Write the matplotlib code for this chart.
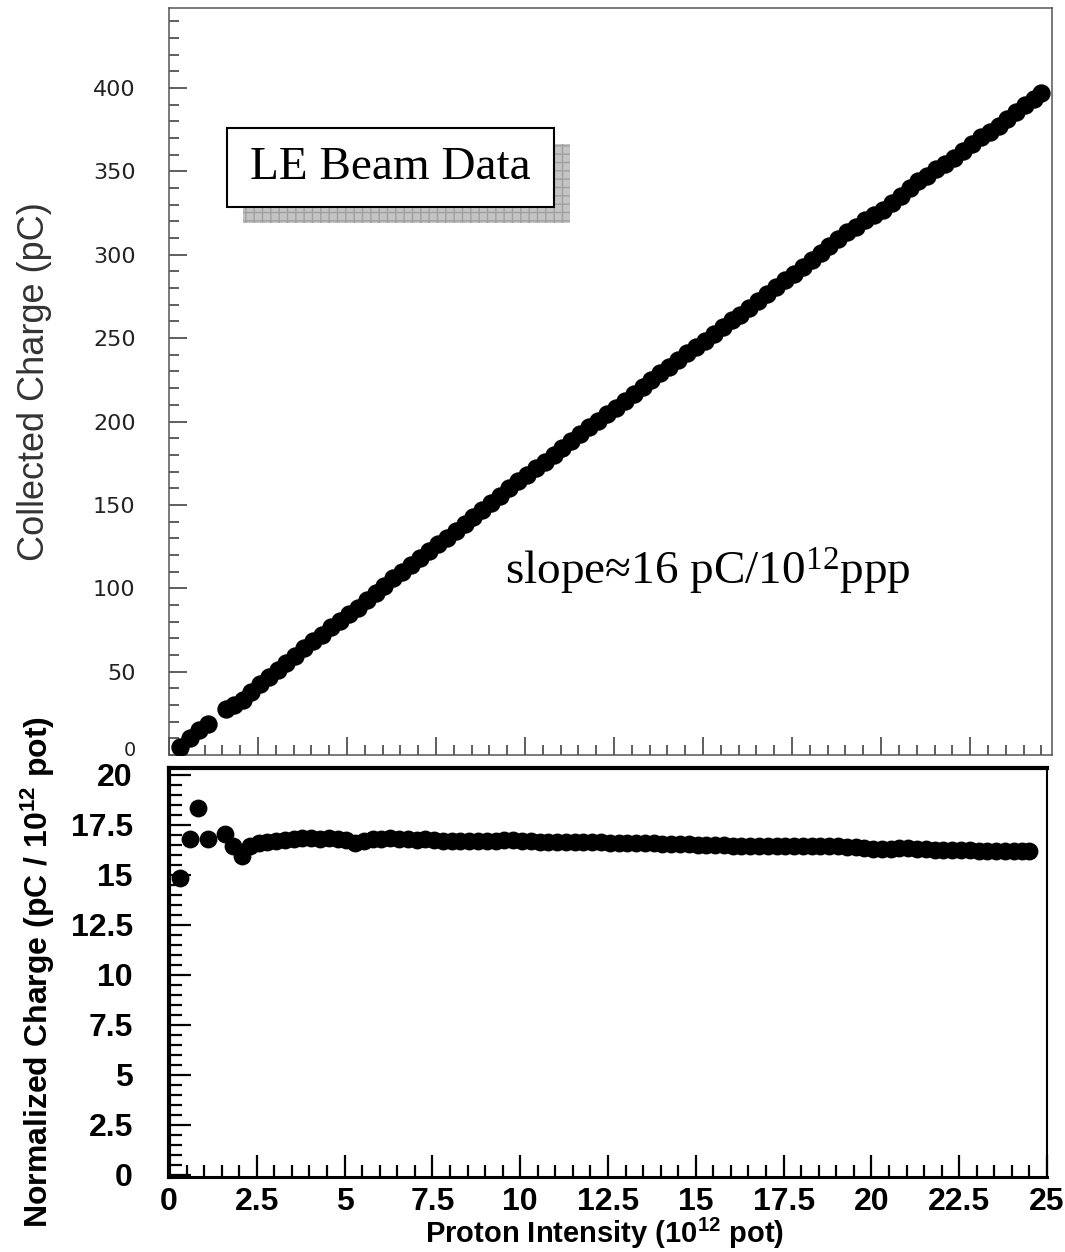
import matplotlib
matplotlib.use('Agg')
import matplotlib.pyplot as plt
from matplotlib.ticker import MultipleLocator, FuncFormatter
from matplotlib.patches import Rectangle

plt.rcParams['mathtext.default'] = 'regular'

# proton intensity (10^12 pot)
intensity = [0.3, 0.6, 0.83, 1.1, 1.6, 1.83, 2.07,
             2.3, 2.55, 2.8, 3.05, 3.3, 3.55, 3.8, 4.05, 4.3, 4.55, 4.8, 5.05, 5.3, 5.55,
             5.8, 6.05, 6.3, 6.55, 6.8, 7.05, 7.3, 7.55, 7.8, 8.05, 8.3, 8.55, 8.8, 9.05,
             9.3, 9.55, 9.8, 10.05, 10.3, 10.55, 10.8, 11.05, 11.3, 11.55, 11.8, 12.05,
             12.3, 12.55, 12.8, 13.05, 13.3, 13.55, 13.8, 14.05, 14.3, 14.55, 14.8, 15.05,
             15.3, 15.55, 15.8, 16.05, 16.3, 16.55, 16.8, 17.05, 17.3, 17.55, 17.8, 18.05,
             18.3, 18.55, 18.8, 19.05, 19.3, 19.55, 19.8, 20.05, 20.3, 20.55, 20.8, 21.05,
             21.3, 21.55, 21.8, 22.05, 22.3, 22.55, 22.8, 23.05, 23.3, 23.55, 23.8, 24.05,
             24.3, 24.5]

# collected charge (pC), top panel
charge = [4.5, 10.1, 15.2, 18.5, 27.3, 30.1, 33.0,
          37.8, 42.3, 46.6, 50.9, 55.3, 59.6, 64.0, 68.2, 72.2, 76.7, 80.6, 84.6, 88.0, 92.7,
          97.4, 101.6, 106.2, 110.0, 114.2, 118.1, 122.6, 126.5, 130.3, 134.4, 138.6, 142.8,
          147.0, 151.1, 155.3, 160.0, 164.2, 167.8, 172.0, 175.7, 179.8, 184.0, 188.1, 192.3,
          196.5, 200.6, 204.8, 208.3, 212.5, 216.6, 220.8, 224.9, 229.1, 232.5, 236.7, 240.8,
          244.9, 248.3, 252.5, 256.6, 260.7, 264.0, 268.1, 272.2, 276.4, 280.5, 284.6, 288.7,
          292.8, 296.9, 301.0, 305.1, 309.3, 313.4, 316.5, 320.6, 323.7, 326.8, 330.9, 335.0,
          340.1, 344.2, 347.2, 351.3, 354.3, 358.3, 362.4, 366.4, 370.5, 373.4, 377.5, 381.5,
          385.6, 389.6, 393.7, 396.9]

# normalized charge (pC / 10^12 pot), bottom panel
norm_charge = [14.85, 16.8, 18.35, 16.8, 17.05, 16.45, 15.95,
               16.45, 16.6, 16.65, 16.7, 16.75, 16.8, 16.85, 16.85, 16.8, 16.85, 16.8, 16.75,
               16.6, 16.7, 16.8, 16.8, 16.85, 16.8, 16.8, 16.75, 16.8, 16.75, 16.7, 16.7,
               16.7, 16.7, 16.7, 16.7, 16.7, 16.75, 16.75, 16.7, 16.7, 16.65, 16.65, 16.65,
               16.65, 16.65, 16.65, 16.65, 16.65, 16.6, 16.6, 16.6, 16.6, 16.6, 16.6, 16.55,
               16.55, 16.55, 16.55, 16.5, 16.5, 16.5, 16.5, 16.45, 16.45, 16.45, 16.45, 16.45,
               16.45, 16.45, 16.45, 16.45, 16.45, 16.45, 16.45, 16.45, 16.4, 16.4, 16.35, 16.3,
               16.3, 16.3, 16.35, 16.35, 16.3, 16.3, 16.25, 16.25, 16.25, 16.25, 16.25, 16.2,
               16.2, 16.2, 16.2, 16.2, 16.2, 16.2]

W, H = 1065, 1252
fig = plt.figure(figsize=(W / 100, H / 100), dpi=100)


def px_rect(l, t, r, b):
    return [l / W, 1 - b / H, (r - l) / W, (b - t) / H]


# ---- top panel: collected charge
ax1 = fig.add_axes(px_rect(169, 8, 1052, 755))
ax1.scatter(intensity, charge, s=175, c='black', linewidths=0, zorder=3)
ax1.set_xlim(0, 24.8)
ax1.set_ylim(0, 448)
ax1.xaxis.set_major_locator(MultipleLocator(2.5))
ax1.xaxis.set_minor_locator(MultipleLocator(0.5))
ax1.yaxis.set_major_locator(MultipleLocator(50))
ax1.yaxis.set_minor_locator(MultipleLocator(10))
# the "0" label sits squeezed against the lower panel, drawn separately below
ax1.yaxis.set_major_formatter(FuncFormatter(lambda v, p: '' if v == 0 else '%d' % v))
ax1.tick_params(which='both', direction='in', color='#333333', width=1.1,
                labelbottom=False, top=False, right=False)
ax1.tick_params(which='major', length=13)
ax1.tick_params(which='minor', length=7)
ax1.tick_params(axis='y', labelsize=16, labelcolor='#222222', pad=24)
for sp in ax1.spines.values():
    sp.set_color('#555555')
    sp.set_linewidth(1.1)
fig.text(136 / W, 1 - 751 / H, '0', ha='right', va='center', fontsize=14, color='#222222')
fig.text(35 / W, 1 - 382 / H, 'Collected Charge (pC)', rotation=90, ha='center', va='center',
         family='Liberation Sans', fontsize=26, color='#333333')

# text box with shaded shadow
shadow = Rectangle((243 / W, 1 - 223 / H), 327 / W, 79 / H, transform=fig.transFigure,
                   facecolor='#c4c4c4', edgecolor='#a0a0a0', hatch='++', linewidth=0, zorder=5)
box = Rectangle((227 / W, 1 - 207 / H), 327 / W, 79 / H, transform=fig.transFigure,
                facecolor='white', edgecolor='black', linewidth=1.5, zorder=6)
fig.add_artist(shadow)
fig.add_artist(box)
fig.text(390.5 / W, 1 - 168 / H, 'LE Beam Data', ha='center', va='center',
         family='Liberation Serif', fontsize=34, zorder=7)
fig.text(505 / W, 1 - 585 / H, 'slope\u224816 pC/10$^{12}$ppp', ha='left', va='baseline',
         family='Liberation Serif', fontsize=34)

# ---- bottom panel: normalized charge
ax2 = fig.add_axes(px_rect(169, 768, 1047, 1177))
ax2.scatter(intensity, norm_charge, s=165, c='black', linewidths=0, zorder=3)
ax2.set_xlim(0, 25)
ax2.set_ylim(-0.1, 20.35)
ax2.xaxis.set_major_locator(MultipleLocator(2.5))
ax2.xaxis.set_minor_locator(MultipleLocator(0.5))
ax2.yaxis.set_major_locator(MultipleLocator(2.5))
ax2.yaxis.set_minor_locator(MultipleLocator(0.5))
fmt = FuncFormatter(lambda v, p: '%g' % v)
ax2.xaxis.set_major_formatter(fmt)
ax2.yaxis.set_major_formatter(fmt)
ax2.tick_params(which='both', direction='in', color='black', width=1.6, top=False, right=False)
ax2.tick_params(which='major', length=16)
ax2.tick_params(which='minor', length=9)
ax2.tick_params(axis='y', pad=26)
ax2.tick_params(axis='x', pad=7)
for lab in ax2.get_xticklabels() + ax2.get_yticklabels():
    lab.set_family('Liberation Sans')
    lab.set_fontweight('bold')
    lab.set_fontsize(23)
ax2.spines['top'].set_linewidth(3.0)
ax2.spines['left'].set_linewidth(3.0)
ax2.spines['bottom'].set_linewidth(2.2)
ax2.spines['right'].set_linewidth(1.5)
fig.text(38 / W, 1 - 972 / H, 'Normalized Charge (pC / 10$^{12}$ pot)', rotation=90,
         ha='center', va='center', family='Liberation Sans', fontweight='bold', fontsize=23)
fig.text(605 / W, 1 - 1233 / H, 'Proton Intensity (10$^{12}$ pot)', ha='center', va='center',
         family='Liberation Sans', fontweight='bold', fontsize=21)

fig.savefig('out.png', dpi=100)
